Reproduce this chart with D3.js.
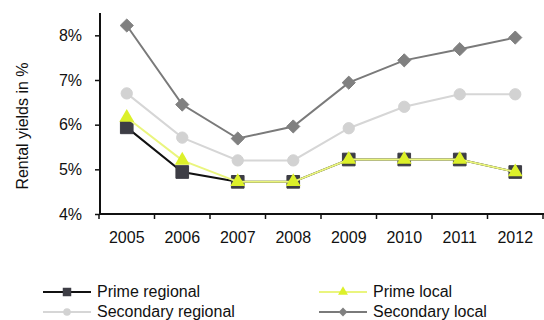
<!DOCTYPE html>
<meta charset="utf-8" />
<script src="https://d3js.org/d3.v7.min.js"></script>
<style>
  body { margin: 0; background: #fff; }
  text { font-family: "Liberation Sans", Arial, sans-serif; fill: #111; }
</style>
<body>
  <div id="my_dataviz"></div>
</body>
<script>
  // years on the x axis
  var years = ["2005", "2006", "2007", "2008", "2009", "2010", "2011", "2012"];
  // y tick labels (percent)
  var yTicks = [4, 5, 6, 7, 8];

  // series values, rental yields in %
  var primeRegional = [5.94, 4.94, 4.72, 4.72, 5.22, 5.22, 5.22, 4.94];
  var primeLocal = [6.16, 5.2, 4.72, 4.72, 5.22, 5.22, 5.22, 4.94];
  var secondaryRegional = [6.7, 5.71, 5.2, 5.2, 5.92, 6.4, 6.68, 6.68];
  var secondaryLocal = [8.22, 6.45, 5.69, 5.96, 6.94, 7.44, 7.69, 7.95];

  var series = [
    { name: "Secondary local", values: secondaryLocal, line: "#7a7a7a", fill: "#808080", symbol: d3.symbolDiamond2, size: 110 },
    { name: "Secondary regional", values: secondaryRegional, line: "#d6d6d6", fill: "#d2d2d2", symbol: d3.symbolCircle, size: 100 },
    { name: "Prime regional", values: primeRegional, line: "#111111", fill: "#3d3d45", symbol: d3.symbolSquare, size: 160 },
    { name: "Prime local", values: primeLocal, line: "#eaf57e", fill: "#dcf02a", symbol: d3.symbolTriangle, size: 95 }
  ];

  var width = 544, height = 320;

  var svg = d3
    .select("#my_dataviz")
    .append("svg")
    .attr("width", width)
    .attr("height", height);

  // scales
  var x = d3.scaleBand().domain(years).range([99, 543]).padding(0);
  var y = d3.scaleLinear().domain([4, 8.5]).range([214, 13]);

  function cx(i) {
    return x(years[i]) + x.bandwidth() / 2;
  }

  // Y axis
  var yAxis = svg
    .append("g")
    .attr("transform", "translate(100,0)")
    .call(
      d3.axisLeft(y)
        .tickValues(yTicks)
        .tickSize(5)
        .tickPadding(13)
        .tickFormat(function (d) { return d + "%"; })
    );
  yAxis.select(".domain").attr("d", "M0," + y(8.5) + "V" + y(4)).attr("stroke", "#111").attr("stroke-width", 2);
  yAxis.selectAll(".tick line").attr("stroke", "#111").attr("stroke-width", 1.5);
  yAxis.selectAll(".tick text").style("font-size", "16px").attr("fill", "#222");

  // X axis: labels at band centres, tick marks at band edges
  var xAxis = svg
    .append("g")
    .attr("transform", "translate(0," + y(4) + ")")
    .call(d3.axisBottom(x).tickSize(0).tickPadding(18));
  xAxis.select(".domain").attr("d", "M99,0H544").attr("stroke", "#111").attr("stroke-width", 2);
  xAxis.selectAll(".tick text").style("font-size", "16px").attr("fill", "#222");
  xAxis
    .selectAll(".edge")
    .data(years.concat(["end"]))
    .enter()
    .append("line")
    .attr("x1", function (d, i) { return 99 + i * x.step(); })
    .attr("x2", function (d, i) { return 99 + i * x.step(); })
    .attr("y1", 0)
    .attr("y2", 5)
    .attr("stroke", "#111")
    .attr("stroke-width", 1.5);

  // lines and markers
  var line = d3
    .line()
    .x(function (d, i) { return cx(i); })
    .y(function (d) { return y(d); });

  series.forEach(function (s) {
    svg
      .append("path")
      .datum(s.values)
      .attr("fill", "none")
      .attr("stroke", s.line)
      .attr("stroke-width", 2)
      .attr("d", line);

    svg
      .selectAll(".m")
      .data(s.values)
      .enter()
      .append("path")
      .attr("d", d3.symbol().type(s.symbol).size(s.size))
      .attr("transform", function (d, i) { return "translate(" + cx(i) + "," + y(d) + ")"; })
      .attr("fill", s.fill)
      .attr("stroke", s.symbol === d3.symbolTriangle ? "none" : s.fill);
  });

  // y axis title
  svg
    .append("text")
    .attr("transform", "translate(28,126) rotate(-90)")
    .attr("text-anchor", "middle")
    .style("font-size", "16px")
    .attr("fill", "#222")
    .text("Rental yields in %");

  // legend
  var legend = [
    { s: series[2], x: 43, y: 292 },
    { s: series[1], x: 43, y: 312 },
    { s: series[3], x: 319, y: 292 },
    { s: series[0], x: 319, y: 312 }
  ];
  legend.forEach(function (l) {
    var g = svg.append("g").attr("transform", "translate(" + l.x + "," + l.y + ")");
    g.append("line")
      .attr("x1", 0).attr("x2", 48)
      .attr("stroke", l.s.line)
      .attr("stroke-width", 2);
    g.append("path")
      .attr("d", d3.symbol().type(l.s.symbol).size(l.s.size * 0.45))
      .attr("transform", "translate(24,0)")
      .attr("fill", l.s.fill);
    g.append("text")
      .attr("x", 54)
      .attr("y", 5)
      .style("font-size", "16px")
      .attr("fill", "#222")
      .text(l.s.name);
  });
</script>
